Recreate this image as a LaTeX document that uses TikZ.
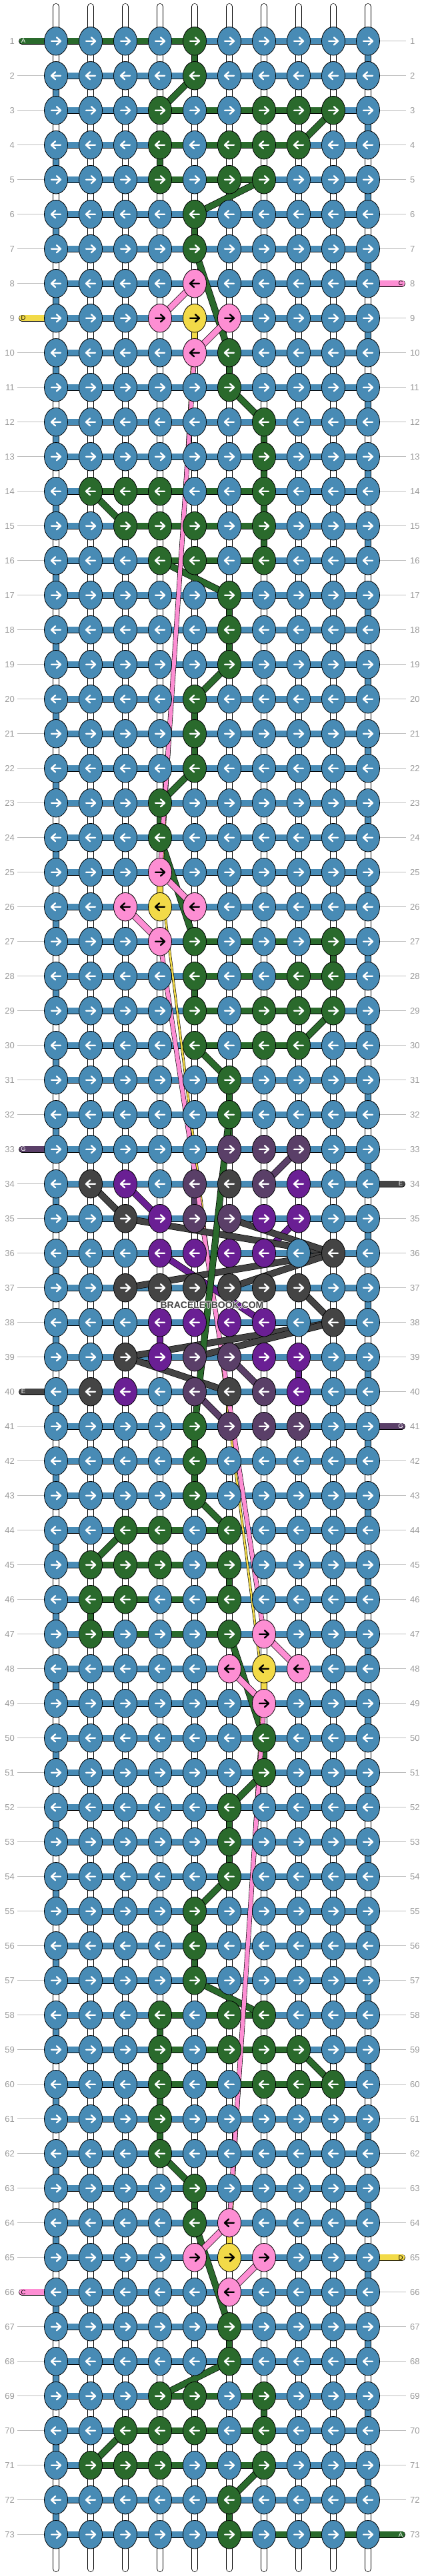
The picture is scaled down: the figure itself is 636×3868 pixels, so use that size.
\documentclass[tikz,border=0pt]{standalone}
\usepackage{fontspec}
\setsansfont{Liberation Sans}
\usetikzlibrary{shapes.geometric}

\definecolor{kblue}{HTML}{488BB5}
\definecolor{kgreen}{HTML}{2A6A2C}
\definecolor{kpink}{HTML}{FD8ED3}
\definecolor{kyellow}{HTML}{F2DA48}
\definecolor{kpurple}{HTML}{6A1F94}
\definecolor{kplum}{HTML}{5A3F68}
\definecolor{kgray}{HTML}{444444}
\definecolor{rulegray}{HTML}{BDBDBD}
\definecolor{numgray}{HTML}{9A9A9A}

\pgfdeclarelayer{strings}
\pgfdeclarelayer{threads}
\pgfdeclarelayer{front}
\pgfsetlayers{strings,threads,main,front}

% tables: knot fill and arrow, bar right of a knot, drop below a knot
\newcommand\setknot[4]{\expandafter\xdef\csname kf-#1-#2\endcsname{#3}\expandafter\xdef\csname ka-#1-#2\endcsname{#4}}
\newcommand\setbar[3]{\expandafter\xdef\csname hb-#1-#2\endcsname{#3}}
\newcommand\setdrop[3]{\expandafter\xdef\csname vd-#1-#2\endcsname{#3}}
\newcommand\halo[1]{\rlap{\color{white}\kern-1pt#1}\rlap{\color{white}\kern1pt#1}\rlap{\color{white}\raisebox{1pt}{#1}}\rlap{\color{white}\raisebox{-1pt}{#1}}#1}

\begin{document}
\begin{tikzpicture}[x=1pt, y=-1pt,
    knot/.style={ellipse, draw=black, line width=0.8pt, minimum width=35pt, minimum height=42.6pt, inner sep=0pt},
    dart/.style={line width=2.4pt, line cap=round, line join=round},
    wire/.style={draw=black, line width=0.7pt, double=#1, double distance=8.6pt},
    lead/.style={wire=#1, line cap=round},
    pinkline/.style={draw=black, line width=0.6pt, double=kpink, double distance=6pt},
    yellowline/.style={draw=black, line width=0.6pt, double=kyellow, double distance=2.6pt},
    guide/.style={draw=rulegray, line width=0.8pt},
    num/.style={text=numgray, font=\sffamily\fontsize{13}{13}\selectfont, inner sep=1pt},
    tag/.style={font=\sffamily\fontsize{9.5}{10}\selectfont, inner sep=0pt}]

\useasboundingbox (0,0) rectangle (636,3868);

% Colours (upper half; the lower half is the same turned round)
\foreach \r/\c in {1/5, 2/5, 3/4, 3/7, 3/8, 3/9, 4/4, 4/6, 4/7, 4/8, 5/4, 5/6, 5/7, 6/5, 7/5,
    10/6, 11/6, 12/7, 13/7, 14/2, 14/3, 14/4, 14/7, 15/3, 15/4, 15/5, 15/7, 16/4, 16/5, 16/7,
    17/6, 18/6, 19/6, 20/5, 21/5, 22/5, 23/4, 24/4, 27/5, 27/9, 28/5, 28/8, 28/9,
    29/5, 29/7, 29/8, 29/9, 30/5, 30/7, 30/8, 31/6, 32/6}{
  \setknot{\r}{\c}{kgreen}{white}
  \setknot{\the\numexpr74-\r\relax}{\the\numexpr11-\c\relax}{kgreen}{white}
}
\foreach \r/\c/\f in {8/5/kpink, 9/4/kpink, 9/5/kyellow, 9/6/kpink, 10/5/kpink,
    25/4/kpink, 26/3/kpink, 26/4/kyellow, 26/5/kpink, 27/4/kpink}{
  \setknot{\r}{\c}{\f}{black}
  \setknot{\the\numexpr74-\r\relax}{\the\numexpr11-\c\relax}{\f}{black}
}
\foreach \r/\c/\f in {33/6/kplum, 33/7/kplum, 33/8/kplum,
    34/2/kgray, 34/3/kpurple, 34/5/kplum, 34/6/kgray, 34/7/kplum, 34/8/kpurple,
    35/3/kgray, 35/4/kpurple, 35/5/kplum, 35/6/kplum, 35/7/kpurple, 35/8/kpurple,
    36/4/kpurple, 36/5/kpurple, 36/6/kpurple, 36/7/kpurple, 36/9/kgray,
    37/3/kgray, 37/4/kgray, 37/5/kgray, 37/6/kgray, 37/7/kgray, 37/8/kgray,
    38/4/kpurple, 38/5/kpurple, 38/6/kpurple, 38/7/kpurple, 38/9/kgray,
    39/3/kgray, 39/4/kpurple, 39/5/kplum, 39/6/kplum, 39/7/kpurple, 39/8/kpurple,
    40/2/kgray, 40/3/kpurple, 40/5/kplum, 40/6/kgray, 40/7/kplum, 40/8/kpurple,
    41/5/kgreen, 41/6/kplum, 41/7/kplum, 41/8/kplum}{
  \setknot{\r}{\c}{\f}{white}
}
\foreach \r/\a/\b/\f in {1/0/4/kgreen, 3/4/8/kgreen, 4/4/7/kgreen, 5/4/6/kgreen,
    8/10/10/kpink, 9/0/0/kyellow, 14/2/6/kgreen, 15/3/6/kgreen, 16/4/6/kgreen,
    27/5/8/kgreen, 28/5/8/kgreen, 29/5/8/kgreen, 30/5/7/kgreen,
    33/0/0/kplum, 34/10/10/kgray}{
  \foreach \s in {\a,...,\b}{
    \setbar{\r}{\s}{\f}
    \setbar{\the\numexpr74-\r\relax}{\the\numexpr10-\s\relax}{\f}
  }
}
\foreach \r/\c/\f in {1/5/kgreen, 4/4/kgreen, 6/5/kgreen, 9/5/kyellow, 10/6/kgreen,
    12/7/kgreen, 13/7/kgreen, 14/7/kgreen, 15/7/kgreen, 17/6/kgreen, 18/6/kgreen,
    20/5/kgreen, 21/5/kgreen, 23/4/kgreen, 25/4/kyellow, 27/9/kgreen, 28/5/kgreen,
    31/6/kgreen, 32/6/kgreen}{
  \setdrop{\r}{\c}{\f}
  \setdrop{\the\numexpr73-\r\relax}{\the\numexpr11-\c\relax}{\f}
}
\setdrop{34}{5}{kplum}
\setdrop{38}{4}{kpurple}
\setdrop{39}{8}{kpurple}

% Knots
\foreach \r in {1,...,73}{
  \foreach \c in {1,...,10}{
    \ifcsname kf-\r-\c\endcsname
      \edef\kfill{\csname kf-\r-\c\endcsname}\edef\kdart{\csname ka-\r-\c\endcsname}
    \else
      \def\kfill{kblue}\def\kdart{white}
    \fi
    \ifodd\r\relax \def\d{1}\else \def\d{(-1)}\fi
    \node[knot, fill=\kfill] (k-\r-\c) at ({32+52*\c}, {9.7+52*\r}) {};
    \draw[dart, color=\kdart] (k-\r-\c.center) +({-7*\d},0) -- +({7*\d},0)
      +({1*\d},-5.5) -- +({7*\d},0) -- +({1*\d},5.5);
  }
}

\begin{pgfonlayer}{strings}
  % strings at top and bottom
  \foreach \c in {1,...,10}{
    \coordinate (up-\c) at ({32+52*\c}, 10);
    \coordinate (dn-\c) at ({32+52*\c}, 3857);
    \draw[lead=white] (up-\c) -- (k-1-\c.center);
    \draw[lead=white] (dn-\c) -- (k-73-\c.center);
  }
  % drops between rows
  \foreach \r [evaluate=\r as \n using int(\r+1)] in {1,...,72}{
    \foreach \c in {1,...,10}{
      \ifcsname vd-\r-\c\endcsname
        \edef\vcol{\csname vd-\r-\c\endcsname}
      \else
        \def\vcol{white}
        \ifodd\r\relax \ifnum\c=10 \def\vcol{kblue}\fi \else \ifnum\c=1 \def\vcol{kblue}\fi \fi
      \fi
      \draw[wire=\vcol] (k-\r-\c.center) -- (k-\n-\c.center);
    }
  }
  % bars along the rows, row numbers, thread ends
  \foreach \r in {1,...,73}{
    \foreach \c [evaluate=\c as \n using int(\c+1)] in {1,...,9}{
      \ifcsname hb-\r-\c\endcsname \edef\hcol{\csname hb-\r-\c\endcsname}\else \def\hcol{kblue}\fi
      \draw[wire=\hcol] (k-\r-\c.center) -- (k-\r-\n.center);
    }
    \node[num, anchor=east] (ll-\r) at (23, {9.7+52*\r}) {\r};
    \node[num, anchor=west] (rl-\r) at (614, {9.7+52*\r}) {\r};
    \ifcsname hb-\r-0\endcsname
      \edef\hcol{\csname hb-\r-0\endcsname}
      \coordinate (le-\r) at (33, {9.7+52*\r});
      \draw[lead=\hcol] (le-\r) -- (k-\r-1.center);
    \else
      \draw[guide] ([xshift=3pt]ll-\r.east) -- (k-\r-1);
    \fi
    \ifcsname hb-\r-10\endcsname
      \edef\hcol{\csname hb-\r-10\endcsname}
      \coordinate (re-\r) at (603, {9.7+52*\r});
      \draw[lead=\hcol] (re-\r) -- (k-\r-10.center);
    \else
      \draw[guide] (k-\r-10) -- ([xshift=-5pt]rl-\r.west);
    \fi
  }
\end{pgfonlayer}

\begin{pgfonlayer}{threads}
  % slanted threads, each with its turned twin
  \foreach \ra/\ca/\rb/\cb/\f in {2/5/3/4/kgreen, 3/9/4/8/kgreen, 5/7/6/5/kgreen,
      7/5/10/6/kgreen, 11/6/12/7/kgreen, 14/2/15/3/kgreen, 16/4/17/6/kgreen,
      19/6/20/5/kgreen, 22/5/23/4/kgreen, 24/4/27/5/kgreen, 29/9/30/8/kgreen,
      30/5/31/6/kgreen, 8/5/9/4/kpink, 9/6/10/5/kpink, 25/4/26/5/kpink, 26/3/27/4/kpink}{
    \pgfmathtruncatemacro\rc{74-\ra}
    \pgfmathtruncatemacro\cc{11-\ca}
    \pgfmathtruncatemacro\rd{74-\rb}
    \pgfmathtruncatemacro\cd{11-\cb}
    \draw[wire=\f] (k-\ra-\ca.center) -- (k-\rb-\cb.center);
    \draw[wire=\f] (k-\rc-\cc.center) -- (k-\rd-\cd.center);
  }
  % long pink and yellow runs
  \draw[yellowline] ([xshift=-3pt]k-10-5.center) -- ([xshift=3pt]k-25-4.center);
  \draw[pinkline] (k-10-5.center) -- (k-25-4.center);
  \draw[yellowline] ([xshift=6pt]k-26-4.center) -- ([xshift=-5pt]k-48-7.center);
  \draw[pinkline] (k-27-4.center) -- (k-47-7.center);
  \draw[yellowline] ([xshift=3pt]k-64-6.center) -- ([xshift=-3pt]k-49-7.center);
  \draw[pinkline] (k-64-6.center) -- (k-49-7.center);
  % middle motif
  \foreach \ra/\ca/\rb/\cb/\f in {33/8/34/7/kplum, 39/6/40/7/kplum, 40/5/41/6/kplum,
      34/3/35/4/kpurple, 35/8/36/7/kpurple, 36/4/38/7/kpurple,
      34/2/35/3/kgray, 35/3/36/9/kgray, 35/6/36/9/kgray, 36/9/37/3/kgray, 36/9/37/6/kgray,
      37/8/38/9/kgray, 38/9/39/3/kgray, 38/9/39/5/kgray, 39/3/40/6/kgray,
      32/6/41/5/kgreen}{
    \draw[wire=\f] (k-\ra-\ca.center) -- (k-\rb-\cb.center);
  }
\end{pgfonlayer}

% letters on the thread ends
\foreach \r/\x/\t/\f in {1/35/A/white, 8/601/C/black, 9/35/D/black, 33/35/G/white,
    34/601/E/white, 40/35/E/white, 41/601/G/white, 65/601/D/black, 66/35/C/black, 73/601/A/white}{
  \node[tag, text=\f] (tag-\r) at (\x, {9.7+52*\r}) {\t};
}

\begin{pgfonlayer}{front}
  \node[text=kgray, font=\sffamily\bfseries\fontsize{14}{14}\selectfont] (brand) at (318, 1960) {\halo{BRACELETBOOK.COM}};
\end{pgfonlayer}

\end{tikzpicture}
\end{document}
